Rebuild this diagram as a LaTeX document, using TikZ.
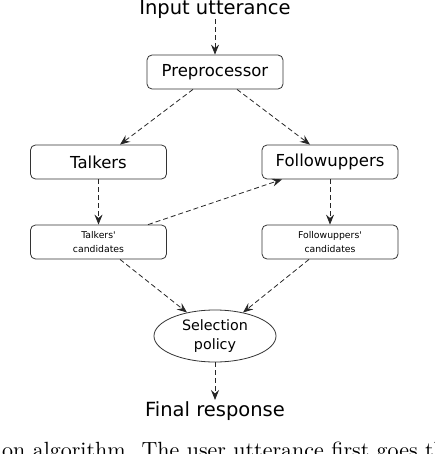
\documentclass[tikz,border=0pt]{standalone}
\usepackage{fontspec}
\usepackage{graphicx}
\newfontfamily\djv{DejaVu Sans}
\usetikzlibrary{arrows.meta,shapes.geometric}
\tikzset{
  box/.style={draw=black!80, line width=0.8pt, rounded corners=5pt, minimum width=136pt, minimum height=34pt, inner sep=0pt, font=\djv\fontsize{16.5}{19}\selectfont, align=center},
  smallbox/.style={box, font=\djv\fontsize{9.3}{14}\selectfont},
  ell/.style={draw=black!80, line width=0.8pt, ellipse, minimum width=122pt, minimum height=52pt, inner sep=0pt, font=\djv\fontsize{14.3}{19}\selectfont, align=center},
  big/.style={font=\djv\fontsize{19.5}{22}\selectfont, inner sep=0pt},
  flow/.style={draw=black!85, line width=0.8pt, dash pattern=on 5pt off 3pt, -{Stealth[length=10pt,width=8pt,inset=3.5pt]}},
}
\begin{document}
\begin{tikzpicture}[x=1pt,y=-1pt]
\useasboundingbox (0,0) rectangle (434,454);
\begin{scope}
\clip (0,0) rectangle (434,454);
\node[big, anchor=base] (in) at (215,15) {Input utterance};
\node[box] (pre) at (215,72) {Preprocessor};
\node[box] (tal) at (98.5,162) {Talkers};
\node[box] (fol) at (330,162) {Followuppers};
\node[smallbox] (tc) at (98.5,242) {Talkers'\\candidates};
\node[smallbox] (fc) at (330,242) {Followuppers'\\candidates};
\node[ell] (sel) at (215,336) {Selection\\policy};
\node[big, anchor=base] (out) at (215,416) {Final response};
\node[anchor=base west, inner sep=0pt] (cap) at (2,457.5) {\scalebox{2.2}{\fontsize{10}{12}\selectfont on algorithm. The user utterance first goes th}};

\draw[flow] (in.south) -- (pre.north);
\draw[flow] ([xshift=-22pt]pre.south) -- ([xshift=21.5pt]tal.north);
\draw[flow] ([xshift=22pt]pre.south) -- ([xshift=-20pt]fol.north);
\draw[flow] (tal.south) -- (tc.north);
\draw[flow] (fol.south) -- (fc.north);
\draw[flow] ([xshift=49.5pt]tc.north) -- ([xshift=-48pt]fol.south);
\draw[flow] ([xshift=21.5pt]tc.south) -- (sel.140);
\draw[flow] ([xshift=-21pt]fc.south) -- (sel.40);
\draw[flow] (sel.south) -- ([yshift=1pt]out.north);
\end{scope}
\end{tikzpicture}
\end{document}
